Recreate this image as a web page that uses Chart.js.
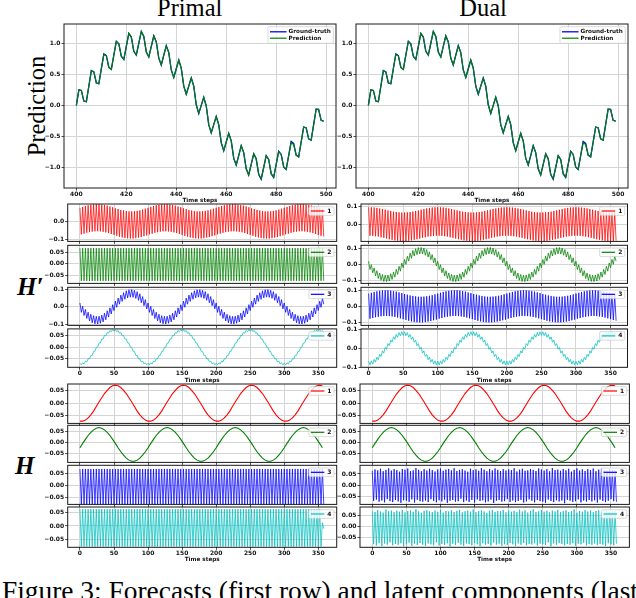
<!DOCTYPE html>
<html><head><meta charset="utf-8">
<script src="https://cdn.jsdelivr.net/npm/chart.js@4.4.1/dist/chart.umd.min.js"></script>
<style>
html,body{margin:0;padding:0;background:#fff;}
#fig{position:relative;width:636px;height:598px;overflow:hidden;background:#fff;}
#fig canvas{position:absolute;}
.t{position:absolute;white-space:nowrap;color:#000;font-family:'Liberation Serif','Times New Roman',serif;line-height:1;}
</style></head><body>
<div id="fig">
<div class="t" style="font-size:24.5px;left:189.7px;top:-4.5px;transform:translateX(-50%)">Primal</div>
<div class="t" style="font-size:24.5px;left:483px;top:-4.5px;transform:translateX(-50%)">Dual</div>
<div class="t" style="font-size:24.5px;left:36.75px;top:106px;transform:translate(-50%,-50%) rotate(-90deg)">Prediction</div>
<div class="t" style="font-size:25px;left:17px;top:274px;font-weight:bold;font-style:italic">H′</div>
<div class="t" style="font-size:25px;left:15px;top:453px;font-weight:bold;font-style:italic">H</div>
<div class="t" style="font-size:27.4px;left:2px;top:577.7px">Figure 3: Forecasts (first row) and latent components (last</div>
</div>
<script>
// ---------- axes / categories ----------
const stepsTop = Array.from({length:100},(_,i)=>400+i);
const stepsDense = Array.from({length:180},(_,i)=>2*i);
const stepsSmooth = Array.from({length:90},(_,i)=>4*i);
const xTicksTop = [400,420,440,460,480,500];
const xTicksLatent = [0,50,100,150,200,250,300,350];
const yTicksTop = [-1.0,-0.5,0.0,0.5,1.0];
const yTicksHalf = [-0.05,0.0,0.05];
const yTicksTenth = [-0.1,0.0,0.1];
const legendTop = ['Ground-truth','Prediction'];
const legendLatent = ['1','2','3','4'];

// ---------- forecasts (first row) ----------
const groundTruth = [
0,.25,.24,.07,.06,.31,.56,.54,.36,.35,.59,.83,.80,.61,.58,.81,1.03,.99,.79,.74,.95,1.16,1.10,.87,.81,
1.00,1.19,1.11,.86,.78,.95,1.12,1.02,.76,.65,.81,.96,.85,.57,.45,.59,.73,.60,.31,.18,.31,.44,.31,.01,-.13,
0,.13,-.01,-.31,-.44,-.31,-.18,-.31,-.60,-.73,-.59,-.45,-.57,-.85,-.96,-.81,-.65,-.76,-1.02,-1.12,-.95,-.78,-.86,-1.11,-1.19,
-1.00,-.81,-.87,-1.10,-1.16,-.95,-.74,-.79,-.99,-1.03,-.81,-.58,-.61,-.80,-.83,-.59,-.35,-.36,-.54,-.56,-.31,-.06,-.07,-.24,-.25];
const prediction = [
0,.25,.24,.07,.06,.31,.56,.54,.36,.35,.59,.82,.80,.61,.58,.81,1.03,.99,.79,.74,.95,1.16,1.10,.87,.81,
1.00,1.19,1.11,.86,.78,.95,1.12,1.02,.76,.65,.81,.96,.85,.57,.45,.59,.73,.60,.31,.18,.31,.44,.31,.01,-.13,
0,.13,-.01,-.31,-.44,-.31,-.18,-.31,-.60,-.73,-.59,-.45,-.57,-.85,-.96,-.81,-.65,-.76,-1.02,-1.12,-.95,-.78,-.86,-1.11,-1.18,
-1.00,-.81,-.87,-1.10,-1.16,-.95,-.74,-.79,-.99,-1.03,-.81,-.60,-.63,-.80,-.83,-.59,-.35,-.36,-.54,-.56,-.31,-.06,-.06,-.24,-.26];

// ---------- H' primal ----------
const hpPrimal1 = [
.075,-.072,.080,-.068,.085,-.063,.089,-.060,.092,-.057,.094,-.055,.095,-.055,.095,-.056,.093,-.058,.090,-.061,.087,-.065,.082,-.070,.078,
-.075,.072,-.080,.068,-.085,.063,-.089,.060,-.092,.057,-.094,.055,-.095,.055,-.095,.056,-.093,.058,-.090,.061,-.087,.065,-.082,.070,-.078,
.075,-.072,.080,-.068,.085,-.063,.089,-.060,.092,-.057,.094,-.055,.095,-.055,.095,-.056,.093,-.058,.090,-.061,.087,-.065,.082,-.070,.078,
-.075,.072,-.080,.068,-.085,.063,-.089,.060,-.092,.057,-.094,.055,-.095,.055,-.095,.056,-.093,.058,-.090,.061,-.087,.065,-.082,.070,-.078,
.075,-.072,.080,-.068,.085,-.063,.089,-.060,.092,-.057,.094,-.055,.095,-.055,.095,-.056,.093,-.058,.090,-.061,.087,-.065,.082,-.070,.078,
-.075,.072,-.080,.068,-.085,.063,-.089,.060,-.092,.057,-.094,.055,-.095,.055,-.095,.056,-.093,.058,-.090,.061,-.087,.065,-.082,.070,-.078,
.075,-.072,.080,-.068,.085,-.063,.089,-.060,.092,-.057,.094,-.055,.095,-.055,.095,-.056,.093,-.058,.090,-.061,.087,-.065,.082,-.070,.078,
-.075,.072,-.080,.068,-.085];
const hpPrimal2 = [
.068,-.073,.068,-.073,.068,-.073,.068,-.073,.068,-.073,.068,-.073,.068,-.073,.068,-.073,.068,-.073,.068,-.073,
.068,-.073,.068,-.073,.068,-.073,.068,-.073,.068,-.073,.068,-.073,.068,-.073,.068,-.073,.068,-.073,.068,-.073,
.068,-.073,.068,-.073,.068,-.073,.068,-.073,.068,-.073,.068,-.073,.068,-.073,.068,-.073,.068,-.073,.068,-.073,
.068,-.073,.068,-.073,.068,-.073,.068,-.073,.068,-.073,.068,-.073,.068,-.073,.068,-.073,.068,-.073,.068,-.073,
.068,-.073,.068,-.073,.068,-.073,.068,-.073,.068,-.073,.068,-.073,.068,-.073,.068,-.073,.068,-.073,.068,-.073,
.068,-.073,.068,-.073,.068,-.073,.068,-.073,.068,-.073,.068,-.073,.068,-.073,.068,-.073,.068,-.073,.068,-.073,
.068,-.073,.068,-.073,.068,-.073,.068,-.073,.068,-.073,.068,-.073,.068,-.073,.068,-.073,.068,-.073,.068,-.073,
.068,-.073,.068,-.073,.068,-.073,.068,-.073,.068,-.073,.068,-.073,.068,-.073,.068,-.073,.068,-.073,.068,-.073,
.068,-.073,.068,-.073,.068,-.073,.068,-.073,.068,-.073,.068,-.073,.068,-.073,.068,-.073,.068,-.073,.068,-.073];
const hpPrimal3 = [
.022,-.032,.003,-.050,-.015,-.067,-.031,-.081,-.043,-.092,-.051,-.098,-.055,-.099,-.054,-.095,-.048,-.087,-.037,-.075,-.023,-.059,-.006,-.041,.012,
-.022,.032,-.003,.050,.015,.067,.031,.081,.043,.092,.051,.098,.055,.099,.054,.095,.048,.087,.037,.075,.023,.059,.006,.041,-.012,
.022,-.032,.003,-.050,-.015,-.067,-.031,-.081,-.043,-.092,-.051,-.098,-.055,-.099,-.054,-.095,-.048,-.087,-.037,-.075,-.023,-.059,-.006,-.041,.012,
-.022,.032,-.003,.050,.015,.067,.031,.081,.043,.092,.051,.098,.055,.099,.054,.095,.048,.087,.037,.075,.023,.059,.006,.041,-.012,
.022,-.032,.003,-.050,-.015,-.067,-.031,-.081,-.043,-.092,-.051,-.098,-.055,-.099,-.054,-.095,-.048,-.087,-.037,-.075,-.023,-.059,-.006,-.041,.012,
-.022,.032,-.003,.050,.015,.067,.031,.081,.043,.092,.051,.098,.055,.099,.054,.095,.048,.087,.037,.075,.023,.059,.006,.041,-.012,
.022,-.032,.003,-.050,-.015,-.067,-.031,-.081,-.043,-.092,-.051,-.098,-.055,-.099,-.054,-.095,-.048,-.087,-.037,-.075,-.023,-.059,-.006,-.041,.012,
-.022,.032,-.003,.050,.015];
const hpPrimal4 = [
-.071,-.078,-.069,-.074,-.062,-.065,-.051,-.052,-.036,-.036,-.019,-.018,-.001,.001,.018,.019,.036,.036,.052,.051,.065,.062,.074,.069,.078,
.071,.078,.069,.074,.062,.065,.051,.052,.036,.036,.019,.018,.001,-.001,-.018,-.019,-.036,-.036,-.052,-.051,-.065,-.062,-.074,-.069,-.078,
-.071,-.078,-.069,-.074,-.062,-.065,-.051,-.052,-.036,-.036,-.019,-.018,-.001,.001,.018,.019,.036,.036,.052,.051,.065,.062,.074,.069,.078,
.071,.078,.069,.074,.062,.065,.051,.052,.036,.036,.019,.018,.001,-.001,-.018,-.019,-.036,-.036,-.052,-.051,-.065,-.062,-.074,-.069,-.078,
-.071,-.078,-.069,-.074,-.062,-.065,-.051,-.052,-.036,-.036,-.019,-.018,-.001,.001,.018,.019,.036,.036,.052,.051,.065,.062,.074,.069,.078,
.071,.078,.069,.074,.062,.065,.051,.052,.036,.036,.019,.018,.001,-.001,-.018,-.019,-.036,-.036,-.052,-.051,-.065,-.062,-.074,-.069,-.078,
-.071,-.078,-.069,-.074,-.062,-.065,-.051,-.052,-.036,-.036,-.019,-.018,-.001,.001,.018,.019,.036,.036,.052,.051,.065,.062,.074,.069,.078,
.071,.078,.069,.074,.062];

// ---------- H' dual ----------
const hpDual1 = [
.095,-.065,.094,-.066,.093,-.068,.091,-.070,.088,-.074,.085,-.077,.081,-.081,.077,-.085,.074,-.088,.070,-.091,.068,-.093,.066,-.095,.065,
-.095,.065,-.095,.066,-.093,.068,-.091,.070,-.088,.074,-.085,.077,-.081,.081,-.077,.085,-.074,.088,-.070,.091,-.068,.093,-.066,.094,-.065,
.095,-.065,.094,-.066,.093,-.068,.091,-.070,.088,-.074,.085,-.077,.081,-.081,.077,-.085,.074,-.088,.070,-.091,.068,-.093,.066,-.095,.065,
-.095,.065,-.095,.066,-.093,.068,-.091,.070,-.088,.074,-.085,.077,-.081,.081,-.077,.085,-.074,.088,-.070,.091,-.068,.093,-.066,.094,-.065,
.095,-.065,.094,-.066,.093,-.068,.091,-.070,.088,-.074,.085,-.077,.081,-.081,.077,-.085,.074,-.088,.070,-.091,.068,-.093,.066,-.095,.065,
-.095,.065,-.095,.066,-.093,.068,-.091,.070,-.088,.074,-.085,.077,-.081,.081,-.077,.085,-.074,.088,-.070,.091,-.068,.093,-.066,.094,-.065,
.095,-.065,.094,-.066,.093,-.068,.091,-.070,.088,-.074,.085,-.077,.081,-.081,.077,-.085,.074,-.088,.070,-.091,.068,-.093,.066,-.095,.065,
-.095,.065,-.095,.066,-.093];
const hpDual2 = [
.020,-.031,-.001,-.051,-.021,-.070,-.038,-.086,-.052,-.097,-.061,-.104,-.065,-.105,-.064,-.101,-.057,-.092,-.046,-.078,-.030,-.061,-.011,-.041,.009,
-.020,.031,.001,.051,.021,.070,.038,.086,.052,.097,.061,.104,.065,.105,.064,.101,.057,.092,.046,.078,.030,.061,.011,.041,-.009,
.020,-.031,-.001,-.051,-.021,-.070,-.038,-.086,-.052,-.097,-.061,-.104,-.065,-.105,-.064,-.101,-.057,-.092,-.046,-.078,-.030,-.061,-.011,-.041,.009,
-.020,.031,.001,.051,.021,.070,.038,.086,.052,.097,.061,.104,.065,.105,.064,.101,.057,.092,.046,.078,.030,.061,.011,.041,-.009,
.020,-.031,-.001,-.051,-.021,-.070,-.038,-.086,-.052,-.097,-.061,-.104,-.065,-.105,-.064,-.101,-.057,-.092,-.046,-.078,-.030,-.061,-.011,-.041,.009,
-.020,.031,.001,.051,.021,.070,.038,.086,.052,.097,.061,.104,.065,.105,.064,.101,.057,.092,.046,.078,.030,.061,.011,.041,-.009,
.020,-.031,-.001,-.051,-.021,-.070,-.038,-.086,-.052,-.097,-.061,-.104,-.065,-.105,-.064,-.101,-.057,-.092,-.046,-.078,-.030,-.061,-.011,-.041,.009,
-.020,.031,.001,.051,.021];
const hpDual3 = [
.080,-.077,.085,-.073,.090,-.068,.094,-.065,.097,-.062,.099,-.060,.100,-.060,.100,-.061,.098,-.063,.095,-.066,.092,-.070,.087,-.075,.083,
-.080,.077,-.085,.073,-.090,.068,-.094,.065,-.097,.062,-.099,.060,-.100,.060,-.100,.061,-.098,.063,-.095,.066,-.092,.070,-.087,.075,-.083,
.080,-.077,.085,-.073,.090,-.068,.094,-.065,.097,-.062,.099,-.060,.100,-.060,.100,-.061,.098,-.063,.095,-.066,.092,-.070,.087,-.075,.083,
-.080,.077,-.085,.073,-.090,.068,-.094,.065,-.097,.062,-.099,.060,-.100,.060,-.100,.061,-.098,.063,-.095,.066,-.092,.070,-.087,.075,-.083,
.080,-.077,.085,-.073,.090,-.068,.094,-.065,.097,-.062,.099,-.060,.100,-.060,.100,-.061,.098,-.063,.095,-.066,.092,-.070,.087,-.075,.083,
-.080,.077,-.085,.073,-.090,.068,-.094,.065,-.097,.062,-.099,.060,-.100,.060,-.100,.061,-.098,.063,-.095,.066,-.092,.070,-.087,.075,-.083,
.080,-.077,.085,-.073,.090,-.068,.094,-.065,.097,-.062,.099,-.060,.100,-.060,.100,-.061,.098,-.063,.095,-.066,.092,-.070,.087,-.075,.083,
-.080,.077,-.085,.073,-.090];
const hpDual4 = [
-.068,-.087,-.066,-.083,-.058,-.073,-.047,-.060,-.032,-.043,-.014,-.025,.005,-.005,.025,.014,.043,.032,.060,.047,.073,.058,.083,.066,.087,
.068,.087,.066,.083,.058,.073,.047,.060,.032,.043,.014,.025,-.005,.005,-.025,-.014,-.043,-.032,-.060,-.047,-.073,-.058,-.083,-.066,-.087,
-.068,-.087,-.066,-.083,-.058,-.073,-.047,-.060,-.032,-.043,-.014,-.025,.005,-.005,.025,.014,.043,.032,.060,.047,.073,.058,.083,.066,.087,
.068,.087,.066,.083,.058,.073,.047,.060,.032,.043,.014,.025,-.005,.005,-.025,-.014,-.043,-.032,-.060,-.047,-.073,-.058,-.083,-.066,-.087,
-.068,-.087,-.066,-.083,-.058,-.073,-.047,-.060,-.032,-.043,-.014,-.025,.005,-.005,.025,.014,.043,.032,.060,.047,.073,.058,.083,.066,.087,
.068,.087,.066,.083,.058,.073,.047,.060,.032,.043,.014,.025,-.005,.005,-.025,-.014,-.043,-.032,-.060,-.047,-.073,-.058,-.083,-.066,-.087,
-.068,-.087,-.066,-.083,-.058,-.073,-.047,-.060,-.032,-.043,-.014,-.025,.005,-.005,.025,.014,.043,.032,.060,.047,.073,.058,.083,.066,.087,
.068,.087,.066,.083,.058];

// ---------- H (shared smooth components) ----------
const hComp1 = [
-.071,-.071,-.067,-.058,-.046,-.031,-.013,.005,.022,.039,.052,.063,.070,.072,.070,.063,.052,.039,.022,.005,-.013,-.031,-.046,-.058,-.067,
-.071,-.071,-.067,-.058,-.046,-.031,-.013,.005,.022,.039,.052,.063,.070,.072,.070,.063,.052,.039,.022,.005,-.013,-.031,-.046,-.058,-.067,
-.071,-.071,-.067,-.058,-.046,-.031,-.013,.005,.022,.039,.052,.063,.070,.072,.070,.063,.052,.039,.022,.005,-.013,-.031,-.046,-.058,-.067,
-.071,-.071,-.067,-.058,-.046,-.031,-.013,.005,.022,.039,.052,.063,.070,.072,.070];
const hComp2 = [
-.023,-.004,.014,.031,.045,.056,.063,.066,.063,.056,.045,.031,.014,-.004,-.023,-.041,-.056,-.069,-.078,-.083,-.083,-.078,-.069,-.056,-.041,
-.023,-.004,.014,.031,.045,.056,.063,.066,.063,.056,.045,.031,.014,-.004,-.023,-.041,-.056,-.069,-.078,-.083,-.083,-.078,-.069,-.056,-.041,
-.023,-.004,.014,.031,.045,.056,.063,.066,.063,.056,.045,.031,.014,-.004,-.023,-.041,-.056,-.069,-.078,-.083,-.083,-.078,-.069,-.056,-.041,
-.023,-.004,.014,.031,.045,.056,.063,.066,.063,.056,.045,.031,.014,-.004,-.023];
const hPrimal3 = [
.067,-.077,.067,-.077,.067,-.077,.067,-.077,.067,-.077,.067,-.077,.067,-.077,.067,-.077,.067,-.077,.067,-.077,
.067,-.077,.067,-.077,.067,-.077,.067,-.077,.067,-.077,.067,-.077,.067,-.077,.067,-.077,.067,-.077,.067,-.077,
.067,-.077,.067,-.077,.067,-.077,.067,-.077,.067,-.077,.067,-.077,.067,-.077,.067,-.077,.067,-.077,.067,-.077,
.067,-.077,.067,-.077,.067,-.077,.067,-.077,.067,-.077,.067,-.077,.067,-.077,.067,-.077,.067,-.077,.067,-.077,
.067,-.077,.067,-.077,.067,-.077,.067,-.077,.067,-.077,.067,-.077,.067,-.077,.067,-.077,.067,-.077,.067,-.077,
.067,-.077,.067,-.077,.067,-.077,.067,-.077,.067,-.077,.067,-.077,.067,-.077,.067,-.077,.067,-.077,.067,-.077,
.067,-.077,.067,-.077,.067,-.077,.067,-.077,.067,-.077,.067,-.077,.067,-.077,.067,-.077,.067,-.077,.067,-.077,
.067,-.077,.067,-.077,.067,-.077,.067,-.077,.067,-.077,.067,-.077,.067,-.077,.067,-.077,.067,-.077,.067,-.077,
.067,-.077,.067,-.077,.067,-.077,.067,-.077,.067,-.077,.067,-.077,.067,-.077,.067,-.077,.067,-.077,.067,-.077];
const hPrimal4 = [
.064,-.078,.064,-.078,.064,-.078,.064,-.078,.064,-.078,.064,-.078,.064,-.078,.064,-.078,.064,-.078,.064,-.078,
.064,-.078,.064,-.078,.064,-.078,.064,-.078,.064,-.078,.064,-.078,.064,-.078,.064,-.078,.064,-.078,.064,-.078,
.064,-.078,.064,-.078,.064,-.078,.064,-.078,.064,-.078,.064,-.078,.064,-.078,.064,-.078,.064,-.078,.064,-.078,
.064,-.078,.064,-.078,.064,-.078,.064,-.078,.064,-.078,.064,-.078,.064,-.078,.064,-.078,.064,-.078,.064,-.078,
.064,-.078,.064,-.078,.064,-.078,.064,-.078,.064,-.078,.064,-.078,.064,-.078,.064,-.078,.064,-.078,.064,-.078,
.064,-.078,.064,-.078,.064,-.078,.064,-.078,.064,-.078,.064,-.078,.064,-.078,.064,-.078,.064,-.078,.064,-.078,
.064,-.078,.064,-.078,.064,-.078,.064,-.078,.064,-.078,.064,-.078,.064,-.078,.064,-.078,.064,-.078,.064,-.078,
.064,-.078,.064,-.078,.064,-.078,.064,-.078,.064,-.078,.064,-.078,.064,-.078,.064,-.078,.064,-.078,.064,-.078,
.064,-.078,.064,-.078,.064,-.078,.064,-.078,.064,-.078,.064,-.078,.064,-.078,.064,-.078,.064,-.078,.012,-.010];
const hDual3 = [
.064,-.068,.070,-.062,.066,-.071,.073,-.066,.062,-.074,.068,-.060,.075,-.069,.065,-.073,.071,-.064,.067,-.070,
.060,-.076,.072,-.065,.069,-.067,.074,-.072,.063,-.061,.066,-.075,.076,-.063,.068,-.069,.062,-.071,.071,-.066,
.065,-.073,.073,-.060,.067,-.068,.061,-.074,.070,-.065,.074,-.070,.064,-.062,.069,-.076,.072,-.067,.066,-.064,
.075,-.071,.063,-.069,.068,-.058,.071,-.073,.065,-.066,.060,-.072,.073,-.063,.067,-.075,.070,-.061,.064,-.068,
.076,-.065,.069,-.074,.062,-.070,.072,-.062,.066,-.077,.074,-.067,.068,-.064,.063,-.071,.071,-.069,.065,-.060,
.070,-.072,.067,-.066,.075,-.073,.061,-.068,.069,-.063,.073,-.075,.064,-.070,.066,-.061,.072,-.067,.068,-.074,
.063,-.064,.074,-.069,.070,-.071,.065,-.076,.071,-.062,.062,-.068,.076,-.073,.067,-.065,.069,-.070,.064,-.066,
.072,-.078,.066,-.063,.073,-.067,.060,-.072,.068,-.069,.075,-.061,.065,-.074,.070,-.066,.063,-.071,.071,-.064,
.067,-.070,.074,-.065,.062,-.075,.069,-.062,.073,-.068,.066,-.073,.064,-.067,.071,-.060,.068,-.069,.065,-.072];
const hDual4 = [
.070,-.078,.066,-.084,.074,-.072,.068,-.086,.063,-.075,.076,-.080,.069,-.070,.072,-.083,.065,-.077,.071,-.081,
.067,-.074,.075,-.087,.064,-.079,.070,-.071,.073,-.085,.066,-.076,.078,-.082,.068,-.073,.062,-.080,.071,-.086,
.074,-.075,.069,-.079,.065,-.083,.072,-.070,.067,-.084,.076,-.077,.063,-.081,.070,-.074,.068,-.088,.073,-.076,
.066,-.082,.071,-.072,.075,-.080,.064,-.085,.069,-.075,.072,-.078,.067,-.083,.077,-.073,.065,-.079,.070,-.087,
.073,-.074,.068,-.081,.062,-.077,.071,-.084,.074,-.071,.066,-.080,.070,-.076,.069,-.085,.075,-.078,.064,-.082,
.072,-.073,.067,-.079,.071,-.086,.065,-.075,.076,-.081,.068,-.072,.073,-.083,.063,-.077,.070,-.080,.078,-.074,
.066,-.084,.069,-.076,.074,-.079,.067,-.082,.071,-.070,.064,-.087,.072,-.075,.068,-.081,.075,-.073,.065,-.078,
.070,-.083,.073,-.077,.066,-.080,.069,-.074,.077,-.085,.062,-.076,.071,-.079,.067,-.072,.074,-.084,.068,-.078,
.072,-.081,.065,-.075,.070,-.082,.073,-.077,.064,-.080,.069,-.086,.071,-.074,.066,-.079,.068,-.083,.070,-.076];

// ---------- drawing ----------
const RED='#ff0000', GREEN='#008000', BLUE='#0000ff', CYAN='#00bfbf';
const fig = document.getElementById('fig');
const TICKFONT = {family:'DejaVu Sans', size:6, weight:'bold'};
const LEG_SMALL = {fs:6, line:13.5, gap:3, padL:2, padR:2.5, padT:0.3, padB:0.3, row:8, off:2.7};
const LEG_TOP = {fs:5.7, line:16.6, gap:2, padL:2, padR:2.5, padT:1.9, padB:1.9, row:6.4, off:2.7};

function fmt(v, dec){ return (v < 0 ? '\u2212' : '') + Math.abs(v).toFixed(dec); }

const framePlugin = {
  id:'frameLegend',
  afterDatasetsDraw(c){
    const a = c.chartArea, ctx = c.ctx, L = c.options.plugins.frameLegend.leg;
    ctx.save();
    ctx.strokeStyle = '#1a1a1a'; ctx.lineWidth = 1;
    ctx.strokeRect(a.left, a.top, a.right - a.left, a.bottom - a.top);
    ctx.font = 'bold ' + L.fs + 'px "DejaVu Sans"';
    const ents = c.data.datasets.map(d => ({label:d.label, color:d.borderColor, w:Math.max(d.borderWidth,1.2)}));
    const tw = Math.max(...ents.map(e => ctx.measureText(e.label).width));
    const bw = L.padL + L.line + L.gap + tw + L.padR;
    const bh = L.padT + ents.length * L.row + L.padB;
    const x0 = a.right - L.off - bw, y0 = a.top + L.off;
    ctx.beginPath();
    if (ctx.roundRect) ctx.roundRect(x0, y0, bw, bh, 1.5); else ctx.rect(x0, y0, bw, bh);
    ctx.fillStyle = 'rgba(255,255,255,0.8)'; ctx.fill();
    ctx.strokeStyle = 'rgba(204,204,204,0.9)'; ctx.lineWidth = 0.8; ctx.stroke();
    ents.forEach((e, i) => {
      const cy = y0 + L.padT + L.row * (i + 0.5);
      ctx.strokeStyle = e.color; ctx.lineWidth = e.w;
      ctx.beginPath(); ctx.moveTo(x0 + L.padL, cy); ctx.lineTo(x0 + L.padL + L.line, cy); ctx.stroke();
      ctx.fillStyle = '#111'; ctx.textBaseline = 'middle'; ctx.textAlign = 'left';
      ctx.fillText(e.label, x0 + L.padL + L.line + L.gap, cy);
    });
    ctx.restore();
  }
};

function plot(o){
  const [l, t, r, b] = o.area;
  const TH = 1.2 * 5.7;
  const cl = Math.floor(l - 42), ct = Math.floor(t - 6), cr = Math.ceil(r + 6);
  const cb = o.titleY != null ? Math.ceil(o.titleY + TH/2 + 0.5) : Math.ceil(b + 3);
  const cv = document.createElement('canvas');
  cv.width = cr - cl; cv.height = cb - ct;
  cv.style.left = cl + 'px'; cv.style.top = ct + 'px';
  cv.style.width = (cr - cl) + 'px'; cv.style.height = (cb - ct) + 'px';
  fig.appendChild(cv);
  new Chart(cv, {
    type:'line',
    data:{datasets:o.series.map(s => ({
      label:s.label, data:s.y.map((y, i) => ({x:s.x[i], y:y})),
      borderColor:s.color, borderWidth:s.w, pointRadius:0, fill:false, tension:0,
      order:s.order || 0, clip:0
    }))},
    options:{
      responsive:false, animation:false, parsing:false, normalized:true,
      events:[],
      layout:{padding:{left:0, top:t - ct, right:cr - r, bottom:0}},
      plugins:{legend:{display:false}, tooltip:{enabled:false}, frameLegend:{leg:o.leg}},
      scales:{
        x:{
          type:'linear', min:o.xr[0], max:o.xr[1],
          afterFit:s => { s.height = cb - b; },
          afterBuildTicks:s => { s.ticks = o.xt.map(v => ({value:v})); },
          ticks:{display:o.titleY != null, font:TICKFONT, color:'#111', padding:0.5, autoSkip:false, maxRotation:0, callback:v => String(v)},
          grid:{color:'#d4d4d4', lineWidth:1, drawTicks:true, tickLength:2.5, tickColor:'#222', tickWidth:0.8},
          border:{display:false},
          title:{display:o.titleY != null, text:'Time steps', color:'#111',
                 font:{family:'DejaVu Sans', size:5.7, weight:'bold'},
                 padding:{top:0, bottom:o.titleY != null ? (cb - (o.titleY + TH/2)) : 0}}
        },
        y:{
          type:'linear', min:o.yr[0], max:o.yr[1],
          afterFit:s => { s.width = l - cl; },
          afterBuildTicks:s => { s.ticks = o.yt.filter(v => v >= o.yr[0] - 1e-9 && v <= o.yr[1] + 1e-9).map(v => ({value:v})); },
          ticks:{font:TICKFONT, color:'#111', padding:1, autoSkip:false, callback:v => fmt(v, o.dec)},
          grid:{color:'#d4d4d4', lineWidth:1, drawTicks:true, tickLength:2.5, tickColor:'#222', tickWidth:0.8},
          border:{display:false}
        }
      }
    },
    plugins:[framePlugin]
  });
}

function topSeries(){
  return [
    {label:legendTop[0], x:stepsTop, y:groundTruth, color:BLUE, w:1.3, order:2},
    {label:legendTop[1], x:stepsTop, y:prediction, color:GREEN, w:1.2, order:1}
  ];
}
// first row
plot({area:[64,24,336,188], xr:[395.05,503.95], yr:[-1.33,1.31], xt:xTicksTop, yt:yTicksTop, dec:1, titleY:200.7, leg:LEG_TOP, series:topSeries()});
plot({area:[356,24,628,188], xr:[395.05,503.95], yr:[-1.33,1.31], xt:xTicksTop, yt:yTicksTop, dec:1, titleY:200.7, leg:LEG_TOP, series:topSeries()});

// H' rows
const hpRows = [[204,243],[245.3,284.6],[287.3,326.7],[328.9,367.3]];
const hRows = [[384,424.3],[425.3,464],[465.3,505.3],[507,547.3]];
const colors = [RED, GREEN, BLUE, CYAN];
const hpPrimal = [hpPrimal1, hpPrimal2, hpPrimal3, hpPrimal4];
const hpDual = [hpDual1, hpDual2, hpDual3, hpDual4];
const hpPrimalY = [[-0.111,0.096],[-0.084,0.080],[-0.107,0.112],[-0.089,0.081]];
const hpDualY = [[-0.097,0.113],[-0.116,0.118],[-0.119,0.119],[-0.1,0.102]];
const hpPrimalTicks = [yTicksTenth, yTicksHalf, yTicksTenth, yTicksHalf];
const hpDualTicks = [yTicksTenth, yTicksTenth, yTicksTenth, yTicksTenth];
for (let i = 0; i < 4; i++){
  const last = i === 3;
  plot({area:[67.7,hpRows[i][0],336.7,hpRows[i][1]], xr:[-18,377], yr:hpPrimalY[i], xt:xTicksLatent,
        yt:hpPrimalTicks[i], dec:hpPrimalTicks[i] === yTicksHalf ? 2 : 1, titleY:last ? 381 : null, leg:LEG_SMALL,
        series:[{label:legendLatent[i], x:stepsDense, y:hpPrimal[i], color:colors[i], w:0.75}]});
  plot({area:[361,hpRows[i][0],627.5,hpRows[i][1]], xr:[-11,374.5], yr:hpDualY[i], xt:xTicksLatent,
        yt:hpDualTicks[i], dec:1, titleY:last ? 381 : null, leg:LEG_SMALL,
        series:[{label:legendLatent[i], x:stepsDense, y:hpDual[i], color:colors[i], w:0.75}]});
}
// H rows
const hPrimalSeries = [[stepsSmooth,hComp1],[stepsSmooth,hComp2],[stepsDense,hPrimal3],[stepsDense,hPrimal4]];
const hDualSeries = [[stepsSmooth,hComp1],[stepsSmooth,hComp2],[stepsDense,hDual3],[stepsDense,hDual4]];
const hPrimalY = [[-0.080,0.077],[-0.088,0.076],[-0.078,0.082],[-0.081,0.072]];
const hDualY = [[-0.080,0.077],[-0.088,0.076],[-0.083,0.088],[-0.092,0.088]];
for (let i = 0; i < 4; i++){
  const last = i === 3;
  plot({area:[67.7,hRows[i][0],336.7,hRows[i][1]], xr:[-18,377], yr:hPrimalY[i], xt:xTicksLatent,
        yt:yTicksHalf, dec:2, titleY:last ? 560 : null, leg:LEG_SMALL,
        series:[{label:legendLatent[i], x:hPrimalSeries[i][0], y:hPrimalSeries[i][1], color:colors[i], w:i < 2 ? 1.1 : 0.75}]});
  plot({area:[360,hRows[i][0],629.4,hRows[i][1]], xr:[-18,377], yr:hDualY[i], xt:xTicksLatent,
        yt:yTicksHalf, dec:2, titleY:last ? 560 : null, leg:LEG_SMALL,
        series:[{label:legendLatent[i], x:hDualSeries[i][0], y:hDualSeries[i][1], color:colors[i], w:i < 2 ? 1.1 : 0.75}]});
}
</script>
</body></html>
